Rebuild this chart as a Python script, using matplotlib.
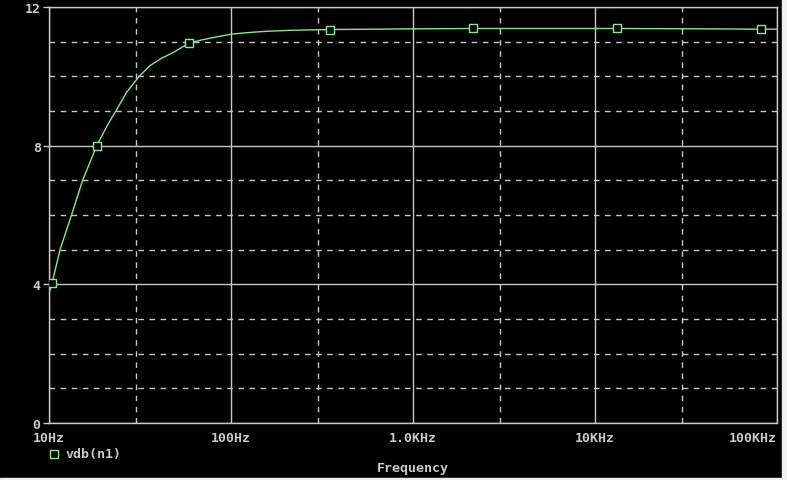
import numpy as np
import matplotlib.pyplot as plt
from matplotlib.patches import Rectangle

# values (frequency in Hz, magnitude in dB)
freq = [10, 10.4, 11.5, 13.3, 15.3, 18.3, 21.0, 23.3, 26.7, 31.3, 35.9, 41.5,
        48.2, 58.9, 69.0, 80.1, 101, 130, 157, 219, 350, 1000, 2140, 13200,
        40000, 81700, 100000]
vdb = [3.75, 4.04, 5.0, 6.0, 7.0, 8.0, 8.6, 9.0, 9.54, 10.0, 10.31, 10.52,
       10.69, 10.96, 11.05, 11.12, 11.22, 11.27, 11.30, 11.33, 11.35, 11.37,
       11.38, 11.38, 11.37, 11.36, 11.36]
marker_idx = [1, 5, 13, 20, 22, 23, 25]

xticks = [10, 100, 1000, 10000, 100000]
xtick_labels = ['10Hz', '100Hz', '1.0KHz', '10KHz', '100KHz']
xminor = [30, 300, 3000, 30000]
yticks = [0, 4, 8, 12]
yminor = [1, 2, 3, 5, 6, 7, 9, 10, 11]

W, H = 787, 481
bg = 'black'
fg = '#c8c8c8'
green = '#8ce68c'
font = 'DejaVu Sans Mono'

fig = plt.figure(figsize=(W / 100, H / 100), dpi=100, facecolor=bg)
ax = fig.add_axes([49 / W, (H - 424) / H, (777 - 49) / W, (424 - 8) / H])
ax.set_facecolor(bg)

ax.set_xscale('log')
ax.set_xlim(10, 100000)
ax.set_ylim(0, 12)

# grid: solid at major, dashed at minor
for x in xticks:
    ax.axvline(x, color=fg, lw=1, zorder=1)
for x in xminor:
    ax.axvline(x, color=fg, lw=1, ls=(0, (4, 4)), zorder=1)
for y in yticks:
    ax.axhline(y, color=fg, lw=1, zorder=1)
for y in yminor:
    ax.axhline(y, color=fg, lw=1, ls=(0, (4, 4)), zorder=1)

ax.plot(freq, vdb, color=green, lw=1, zorder=3,
        marker='s', markevery=marker_idx, ms=6, mfc='black', mec=green, mew=1)

for s in ax.spines.values():
    s.set_color(fg)
    s.set_linewidth(1)

ax.minorticks_off()
ax.set_xticks(xticks)
ax.set_xticklabels(xtick_labels)
ax.set_yticks(yticks)
ax.set_yticklabels([str(v) for v in yticks])
ax.tick_params(axis='x', length=0, pad=6, colors=fg, labelsize=9.5)
ax.tick_params(axis='y', length=4, width=1, pad=2, colors=fg, labelsize=9.5)
for lab in ax.get_xticklabels() + ax.get_yticklabels():
    lab.set_fontfamily(font)
    lab.set_fontweight('bold')
ax.get_xticklabels()[-1].set_horizontalalignment('right')

# legend entry and axis title
fig.lines.append(plt.Line2D([54 / W], [1 - 455 / H], transform=fig.transFigure,
                            marker='s', ms=6, mfc='black', mec=green, mew=1, ls='none'))
fig.text(65 / W, 1 - 455 / H, 'vdb(n1)', color=fg, fontsize=9.5, family=font,
         fontweight='bold', va='center', ha='left')
fig.text(413 / W, 1 - 469 / H, 'Frequency', color=fg, fontsize=9.5, family=font,
         fontweight='bold', va='center', ha='center')

# window border strips
fig.patches.append(Rectangle((782 / W, 0), 5 / W, 1, transform=fig.transFigure,
                             color='#f0f0f0', zorder=0))
fig.patches.append(Rectangle((0, 0), 1, 2 / H, transform=fig.transFigure,
                             color='#f0f0f0', zorder=0))

fig.savefig('out.png', dpi=100, facecolor=bg)
